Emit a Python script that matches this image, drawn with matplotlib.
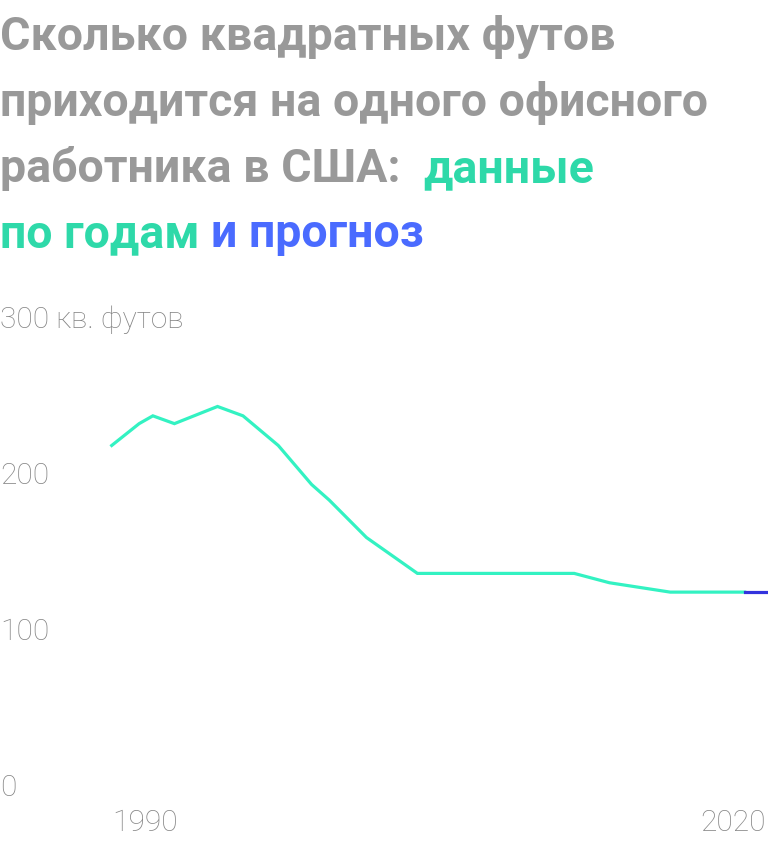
import matplotlib.pyplot as plt

# data
years = [1988.3, 1989.7, 1990.4, 1991.5, 1993.7, 1995.0, 1996.8, 1998.5,
         1999.4, 2001.3, 2003.9, 2011.9, 2013.7, 2016.8, 2020.6]
sqft = [217, 231, 236, 231, 242, 236, 217, 192, 182, 158, 135, 135, 129, 123, 123]
forecast_years = [2020.6, 2021.8]
forecast_sqft = [123, 123]

y_ticks = [0, 100, 200, 300]
y_labels = ['0', '100', '200', '300 кв. футов']
x_ticks = [1990, 2020]
x_labels = ['1990', '2020']

GRAY = '#999999'
TICK_GRAY = '#858585'
GREEN_T = '#2ed9a9'
BLUE_T = '#4a6bff'
LINE = '#33f2c2'
LINE_F = '#3333dd'

W, H = 768, 845
fig = plt.figure(figsize=(W / 100, H / 100), dpi=100)
ax = fig.add_axes([0, (H - 785) / H, 1, (785 - 317) / H])
ax.set_xlim(1982.6, 2021.79)
ax.set_ylim(0, 300)
for s in ax.spines.values():
    s.set_visible(False)

ax.plot(years, sqft, color=LINE, lw=2.3, solid_joinstyle='miter', clip_on=False)
ax.plot(forecast_years, forecast_sqft, color=LINE_F, lw=2.3, clip_on=False)

ax.set_yticks(y_ticks, y_labels)
ax.set_xticks(x_ticks, x_labels)
ax.tick_params(length=0, colors=TICK_GRAY, labelsize=21.5)
ax.tick_params(axis='y', pad=0)
ax.tick_params(axis='x', pad=17)
for lab in ax.get_yticklabels() + ax.get_xticklabels():
    lab.set_fontfamily('Roboto')
    lab.set_fontweight('light')
for lab in ax.get_yticklabels():
    lab.set_ha('left')

# title, several colours on one line
tkw = dict(fontsize=33.5, fontweight='bold', family='Roboto', va='baseline')
lines = [
    [('Сколько квадратных футов', GRAY)],
    [('приходится на одного офисного', GRAY)],
    [('работника в США:  ', GRAY), ('данные', GREEN_T)],
    [('по годам ', GREEN_T), ('и прогноз', BLUE_T)],
]
baselines = [50, 116, 182, 247]
fig.canvas.draw()
r = fig.canvas.get_renderer()
for parts, b in zip(lines, baselines):
    x = 0
    for txt, col in parts:
        t = fig.text(x / W, 1 - b / H, txt, color=col, **tkw)
        bb = t.get_window_extent(renderer=r)
        x = bb.x1

fig.savefig('out.png', dpi=100)
